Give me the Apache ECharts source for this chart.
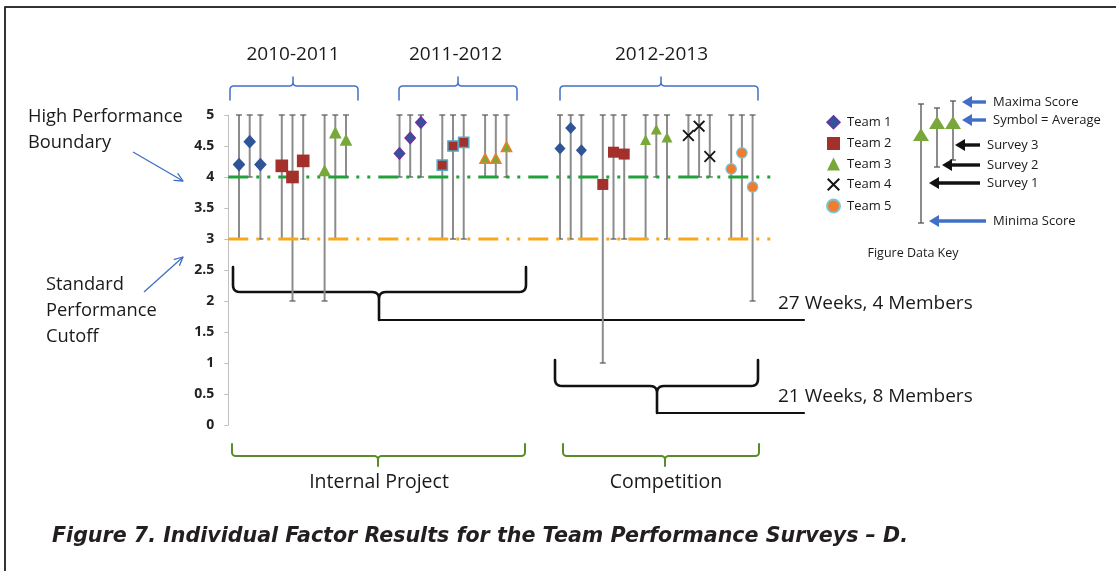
<!DOCTYPE html>
<html><head><meta charset="utf-8">
<script src="https://cdn.jsdelivr.net/npm/echarts@6/dist/echarts.min.js"></script>
<style>html,body{margin:0;padding:0;background:#fff}#c{width:1116px;height:571px}</style>
</head><body><div id="c"></div>
<script>
// ---------------- data ----------------
const years = ['2010-2011', '2011-2012', '2012-2013'];
const teams = ['Team 1', 'Team 2', 'Team 3', 'Team 4', 'Team 5'];
const surveys = ['Survey 1', 'Survey 2', 'Survey 3'];
const projectGroups = ['Internal Project', 'Competition'];
const groupNotes = ['27 Weeks, 4 Members', '21 Weeks, 8 Members'];
const thresholds = [4, 3];
const thresholdNames = ['High Performance Boundary', 'Standard Performance Cutoff'];

// teams taking part each year (index into teams)
const teamsIn2010 = [0, 1, 2];
const teamsIn2011 = [0, 1, 2];
const teamsIn2012 = [0, 1, 2, 3, 4];

// averages (symbol), minima, maxima for survey 1..3 of each team
const avg2010 = [[4.20, 4.57, 4.20], [4.18, 4.00, 4.26], [4.11, 4.72, 4.60]];
const min2010 = [[3, 4, 3], [3, 2, 3], [2, 3, 4]];
const max2010 = [[5, 5, 5], [5, 5, 5], [5, 5, 5]];

const avg2011 = [[4.38, 4.63, 4.88], [4.19, 4.50, 4.56], [4.30, 4.30, 4.49]];
const min2011 = [[4, 4, 4], [3, 3, 3], [4, 4, 4]];
const max2011 = [[5, 5, 5], [5, 5, 5], [5, 5, 5]];

const avg2012 = [[4.46, 4.79, 4.43], [3.88, 4.40, 4.37], [4.60, 4.77, 4.64], [4.67, 4.82, 4.33], [4.13, 4.39, 3.84]];
const min2012 = [[3, 3, 3], [1, 3, 3], [3, 4, 3], [4, 4, 4], [3, 3, 2]];
const max2012 = [[5, 5, 5], [5, 5, 5], [5, 5, 5], [5, 5, 5], [5, 5, 5]];

// ---------------- build table ----------------
const yearData = [
  { teams: teamsIn2010, avg: avg2010, min: min2010, max: max2010 },
  { teams: teamsIn2011, avg: avg2011, min: min2011, max: max2011 },
  { teams: teamsIn2012, avg: avg2012, min: min2012, max: max2012 }
];
const categories = ['gap-0'];
const points = [];
let gapN = 1;
yearData.forEach((yd, yi) => {
  yd.teams.forEach((t, k) => {
    if (k > 0) categories.push('gap-' + gapN++);
    surveys.forEach((s, si) => {
      categories.push(years[yi] + ' ' + teams[t] + ' ' + s);
      points.push({ team: t, year: yi, x: categories.length - 1,
        avg: yd.avg[k][si], min: yd.min[k][si], max: yd.max[k][si] });
    });
  });
  const gaps = yi < yearData.length - 1 ? 4 : 2;
  for (let i = 0; i < gaps; i++) categories.push('gap-' + gapN++);
});

// ---------------- styles ----------------
const FONT = "'Open Sans', 'Noto Sans', sans-serif";
const X_PATH = 'path://M0,1.1L1.1,0L5,3.9L8.9,0L10,1.1L6.1,5L10,8.9L8.9,10L5,6.1L1.1,10L0,8.9L3.9,5Z';
const teamStyle = [
  { symbol: 'diamond', size: [11, 12], color: '#2F5597' },
  { symbol: 'rect', size: [11, 11], color: '#A3302B' },
  { symbol: 'triangle', size: [11, 10.5], color: '#78A83A' },
  { symbol: X_PATH, size: [12, 12], color: '#151515' },
  { symbol: 'circle', size: [10.5, 10.5], color: '#F07C2E', borderColor: '#79C5E0', borderWidth: 1.2 }
];
const yearScale = [1.15, 0.93, 1.0];
const yearBorder = [null, ['#7030A0', '#4BACC6', '#F07E26'], null];
const thresholdColors = ['#22A03A', '#F9A81B'];

// ---------------- helpers for annotation shapes ----------------
function quad(p0, c, p1, n) {
  n = n || 6; const pts = [];
  for (let i = 1; i <= n; i++) {
    const t = i / n, a = (1 - t) * (1 - t), b = 2 * (1 - t) * t, d = t * t;
    pts.push([a * p0[0] + b * c[0] + d * p1[0], a * p0[1] + b * c[1] + d * p1[1]]);
  }
  return pts;
}
function brace(x1, x2, pip, yEnd, yH, yPip, r) {
  const sE = Math.sign(yEnd - yH), sP = Math.sign(yPip - yH);
  let p = [[x1, yEnd], [x1, yH + sE * r]];
  p = p.concat(quad([x1, yH + sE * r], [x1, yH], [x1 + r, yH]));
  p.push([pip - r, yH]);
  p = p.concat(quad([pip - r, yH], [pip, yH], [pip, yH + sP * r]));
  p.push([pip, yPip]); p.push([pip, yH + sP * r]);
  p = p.concat(quad([pip, yH + sP * r], [pip, yH], [pip + r, yH]));
  p.push([x2 - r, yH]);
  p = p.concat(quad([x2 - r, yH], [x2, yH], [x2, yH + sE * r]));
  p.push([x2, yEnd]);
  return p;
}
function poly(points, color, width) {
  return { type: 'polyline', silent: true, shape: { points },
    style: { stroke: color, lineWidth: width, fill: null, lineJoin: 'round', lineCap: 'round' } };
}
function text(str, x, y, size, opts) {
  opts = opts || {};
  return { type: 'text', silent: true, x, y,
    style: { text: str, font: (opts.style || '') + ' ' + (opts.weight || 'normal') + ' ' + size + 'px ' + (opts.family || FONT),
      fill: opts.color || '#1a1a1a', textAlign: opts.align || 'left', textVerticalAlign: 'middle' } };
}
function thinArrow(x1, y1, x2, y2, color) {
  const a = Math.atan2(y2 - y1, x2 - x1), L = 9, w = 0.45;
  return [
    { type: 'line', silent: true, shape: { x1, y1, x2, y2 }, style: { stroke: color, lineWidth: 1.3 } },
    poly([[x2 - L * Math.cos(a - w), y2 - L * Math.sin(a - w)], [x2, y2],
          [x2 - L * Math.cos(a + w), y2 - L * Math.sin(a + w)]], color, 1.3)
  ];
}
function keyArrow(xFrom, xTo, y, color) {
  return [
    { type: 'line', silent: true, shape: { x1: xFrom, y1: y, x2: xTo + 8, y2: y }, style: { stroke: color, lineWidth: 3.4 } },
    { type: 'polygon', silent: true, shape: { points: [[xTo, y], [xTo + 10, y - 6], [xTo + 10, y + 6]] }, style: { fill: color } }
  ];
}
function keyBar(x, yTop, yBot, yAvg) {
  return [
    { type: 'line', silent: true, shape: { x1: x, y1: yTop, x2: x, y2: yBot }, style: { stroke: '#8c8c8c', lineWidth: 2 } },
    { type: 'line', silent: true, shape: { x1: x - 3, y1: yTop, x2: x + 3, y2: yTop }, style: { stroke: '#555', lineWidth: 1.3 } },
    { type: 'line', silent: true, shape: { x1: x - 3, y1: yBot, x2: x + 3, y2: yBot }, style: { stroke: '#555', lineWidth: 1.3 } },
    { type: 'polygon', silent: true, shape: { points: [[x, yAvg - 7], [x + 8, yAvg + 6], [x - 8, yAvg + 6]] }, style: { fill: '#78A83A' } }
  ];
}

const BLUE = '#3F6FC6', BLACK = '#111', GREEN = '#5B8C2A';
const graphics = [].concat(
  [poly([[5, 571], [5, 7], [1116, 7]], '#333', 2)],
  // year labels and braces
  [text(years[0], 293, 55, 19, { align: 'center' }), text(years[1], 455.5, 55, 19, { align: 'center' }),
   text(years[2], 661.5, 55, 19, { align: 'center' })],
  [poly(brace(230, 358, 293, 100, 86, 77, 4), BLUE, 1.5),
   poly(brace(399, 517, 458, 100, 86, 77, 4), BLUE, 1.5),
   poly(brace(560, 758, 661, 100, 86, 77, 4), BLUE, 1.5)],
  // left annotations
  [text('High Performance', 28, 117, 18.3), text('Boundary', 28, 143, 18.3),
   text('Standard', 46, 285, 18.3), text('Performance', 46, 311, 18.3), text('Cutoff', 46, 337, 18.3)],
  thinArrow(133, 152, 183, 181, BLUE),
  thinArrow(144, 292, 183, 257, BLUE),
  // black braces with notes
  [poly(brace(233, 526, 379, 267, 292, 320, 7), BLACK, 2.6), poly([[379, 320], [804, 320]], BLACK, 2.2),
   poly(brace(555, 758, 657, 360, 386, 413, 7), BLACK, 2.6), poly([[657, 413], [804, 413]], BLACK, 2.2),
   text(groupNotes[0], 778, 304, 19), text(groupNotes[1], 778, 397, 19)],
  // green braces with group labels
  [poly(brace(232, 525, 378, 444, 456, 466, 4), GREEN, 2), poly(brace(563, 759, 665, 444, 456, 466, 4), GREEN, 2),
   text(projectGroups[0], 379, 482, 19.5, { align: 'center' }), text(projectGroups[1], 666, 482, 19.5, { align: 'center' })],
  // figure data key
  keyBar(921, 104, 223, 135), keyBar(937, 108, 167, 123), keyBar(953, 101, 160, 123),
  keyArrow(986, 962, 102, BLUE), keyArrow(986, 962, 120, BLUE),
  keyArrow(980, 955, 145, BLACK), keyArrow(980, 942, 165, BLACK), keyArrow(980, 929, 183, BLACK),
  keyArrow(986, 929, 221, BLUE),
  [text('Maxima Score', 993, 102, 13), text('Symbol = Average', 993, 120, 13),
   text(surveys[2], 987, 145, 13), text(surveys[1], 987, 165, 13), text(surveys[0], 987, 183, 13),
   text('Minima Score', 993, 221, 13), text('Figure Data Key', 913, 253, 12.5, { align: 'center' })],
  // caption
  [text('Figure 7. Individual Factor Results for the Team Performance Surveys \u2013 D.', 52, 537, 20.6,
        { weight: 'bold', style: 'italic', color: '#231F20', family: "'DejaVu Sans', sans-serif" })]
);

// ---------------- series ----------------
const errorBars = {
  type: 'custom', z: 1, silent: true,
  data: points.map(p => [p.x, p.min, p.max]),
  encode: { x: 0, y: [1, 2] },
  renderItem(params, api) {
    const x = api.value(0);
    const top = api.coord([x, api.value(2)]);
    const bot = api.coord([x, api.value(1)]);
    const c = 3;
    return { type: 'group', children: [
      { type: 'line', shape: { x1: top[0], y1: top[1], x2: bot[0], y2: bot[1] }, style: { stroke: '#8c8c8c', lineWidth: 2 } },
      { type: 'line', shape: { x1: top[0] - c, y1: top[1], x2: top[0] + c, y2: top[1] }, style: { stroke: '#555', lineWidth: 1.2 } },
      { type: 'line', shape: { x1: bot[0] - c, y1: bot[1], x2: bot[0] + c, y2: bot[1] }, style: { stroke: '#555', lineWidth: 1.2 } }
    ] };
  }
};
const thresholdSeries = thresholds.map((v, i) => ({
  name: thresholdNames[i], type: 'line', z: 2, silent: true, symbol: 'none', showSymbol: false,
  data: [[0, v], [categories.length - 1, v]],
  lineStyle: { color: thresholdColors[i], width: 3, type: [20, 8, 3, 8, 3, 8], cap: 'butt' }
}));
const teamSeries = teams.map((name, t) => {
  const st = teamStyle[t];
  return {
    name, type: 'scatter', z: 3, symbol: st.symbol,
    itemStyle: { color: st.color, borderColor: st.borderColor || st.color, borderWidth: st.borderWidth || 0, opacity: 1 },
    data: points.filter(p => p.team === t).map(p => {
      const sc = yearScale[p.year];
      const item = { value: [p.x, p.avg], symbolSize: [st.size[0] * sc, st.size[1] * sc] };
      if (yearBorder[p.year]) item.itemStyle = { borderColor: yearBorder[p.year][t], borderWidth: 1.5 };
      return item;
    })
  };
});

const chart = echarts.init(document.getElementById('c'), null, { renderer: 'canvas' });
chart.setOption({
  animation: false,
  backgroundColor: '#ffffff',
  grid: { left: 228.3, right: 342, top: 115, bottom: 146, containLabel: false, outerBoundsMode: 'none' },
  xAxis: { type: 'category', data: categories, boundaryGap: false, show: false },
  yAxis: {
    type: 'value', min: 0, max: 5, interval: 0.5,
    splitLine: { show: false },
    axisLine: { show: true, lineStyle: { color: '#BFBFBF', width: 1 } },
    axisTick: { show: true, length: 4, lineStyle: { color: '#BFBFBF' } },
    axisLabel: { margin: 14, fontFamily: FONT, fontWeight: 'bold', fontSize: 14, color: '#222' }
  },
  legend: {
    orient: 'vertical', left: 826, top: 115, padding: 0, itemWidth: 13, itemHeight: 13, itemGap: 7.5,
    selectedMode: false,
    textStyle: { fontFamily: FONT, fontSize: 13, color: '#1a1a1a', lineHeight: 13, padding: [0, 0, 0, 2] },
    data: teams.map((n, i) => i === 0 ? { name: n, itemStyle: { borderColor: '#7030A0', borderWidth: 1.5 } } : n)
  },
  graphic: { elements: graphics },
  series: [errorBars].concat(thresholdSeries, teamSeries)
});
</script>
</body></html>
